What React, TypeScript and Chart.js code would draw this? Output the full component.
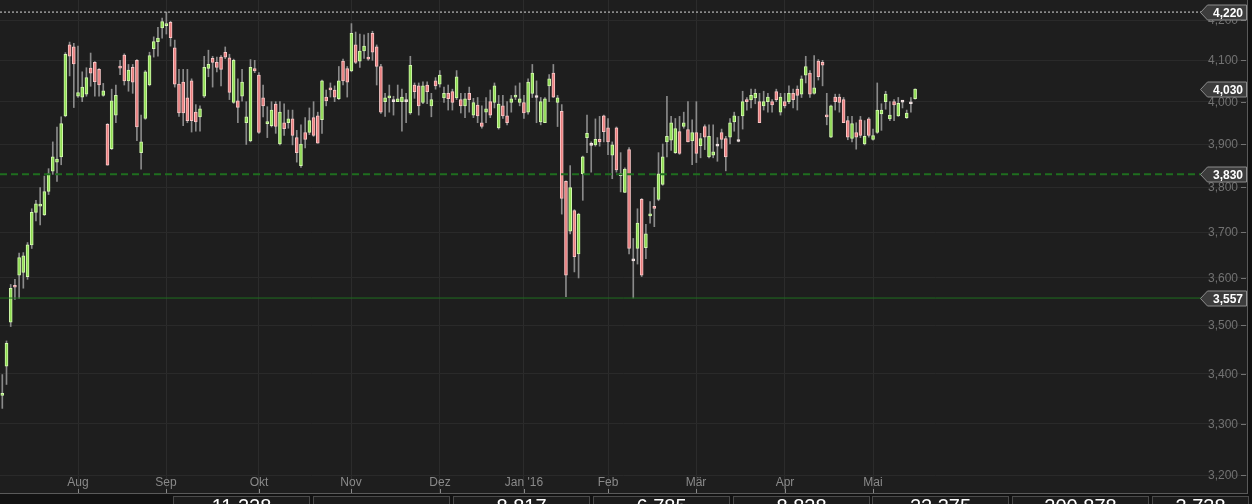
import React, { useEffect, useRef } from "react";
import { Chart, registerables } from "chart.js";

Chart.register(...registerables);

// ---- Data (daily candles, index 0 = first trading day shown) ----
const OPEN = [
  3356, 3415, 3506, 3584, 3606, 3612, 3603, 3672, 3744, 3758,
  3738, 3791, 3837, 3858, 3870, 3966, 4138, 4133, 4013, 4011,
  4018, 4081, 4095, 4078, 4015, 3946, 3889, 3968, 4085, 4113,
  4050, 4083, 4100, 3880, 3960, 4040, 4129, 4146, 4180, 4186,
  4194, 4131, 4042, 4047, 4009, 4050, 3975, 3964, 4013, 4080,
  4105, 4095, 4108, 4120, 4106, 3998, 4002, 4013, 3950, 3907,
  4080, 4064, 4009, 3948, 3943, 3994, 3900, 3950, 3950, 3959,
  3915, 3850, 3927, 3927, 3962, 3966, 3957, 4011, 4033, 4028,
  4007, 4098, 4080, 4074, 4138, 4098, 4123, 4107, 4167, 4133,
  4085, 4000, 4009, 4000, 4000, 4000, 4001, 3973, 4040, 4038,
  3998, 4040, 3990, 4050, 4042, 4009, 4020, 4024, 4009, 4005,
  3990, 4020, 3968, 3992, 3950, 3975, 4000, 3998, 3938, 3990,
  3966, 3998, 4011, 3998, 3998, 3975, 4020, 4012, 3952, 3950,
  4038, 4069, 3998, 3977, 3814, 3702, 3748, 3652, 3831, 3915,
  3899, 3898, 3911, 3966, 3938, 3874, 3938, 3829, 3789, 3887,
  3639, 3664, 3773, 3666, 3736, 3757, 3773, 3807, 3905, 3909,
  3880, 3929, 3941, 3934, 3907, 3927, 3896, 3941, 3870, 3874,
  3897, 3927, 3913, 3916, 3952, 3908, 3966, 4005, 4004, 4009,
  4000, 3990, 4000, 4000, 4024, 3975, 4000, 4000, 4020, 4030,
  4018, 4064, 4069, 4020, 4098, 4095, 3968, 3916, 4011, 4011,
  4005, 3955, 3913, 3927, 3957, 3900, 3959, 3911, 3927, 3971,
  4000, 3959, 4000, 3966, 4001, 3962, 3997, 4007,
];
const HIGH = [
  3398, 3467, 3586, 3597, 3654, 3655, 3677, 3752, 3771, 3800,
  3826, 3843, 3905, 3940, 3964, 4119, 4145, 4142, 4135, 4072,
  4082, 4118, 4097, 4080, 4044, 3948, 4030, 4040, 4100, 4116,
  4090, 4090, 4102, 3968, 4075, 4120, 4158, 4182, 4205, 4220,
  4197, 4150, 4078, 4078, 4078, 4055, 3993, 3990, 4110, 4125,
  4110, 4108, 4112, 4133, 4115, 4103, 4055, 4078, 4000, 4102,
  4100, 4070, 4040, 3988, 4000, 4000, 4000, 3995, 3980, 3980,
  3932, 3945, 3962, 3985, 4000, 3975, 4052, 4028, 4045, 4038,
  4085, 4103, 4085, 4191, 4170, 4165, 4163, 4167, 4172, 4138,
  4090, 4020, 4040, 4013, 4040, 4030, 4020, 4110, 4045, 4045,
  4048, 4048, 4020, 4058, 4075, 4035, 4040, 4030, 4075, 4020,
  4020, 4035, 4008, 4010, 3990, 4010, 4028, 4045, 4015, 4015,
  4000, 4015, 4038, 4045, 4015, 4055, 4090, 4050, 4010, 4010,
  4065, 4090, 4015, 3993, 3815, 3850, 3750, 3742, 3872, 3968,
  3905, 3959, 3965, 3968, 3960, 3905, 3940, 3880, 3845, 3892,
  3686, 3752, 3775, 3717, 3768, 3800, 3880, 3900, 4013, 3965,
  3960, 3965, 3975, 4000, 3957, 4000, 3925, 3945, 3945, 3945,
  3915, 3935, 3918, 3960, 3975, 3965, 4025, 4010, 4030, 4030,
  4020, 4025, 4020, 4005, 4030, 4020, 4020, 4038, 4030, 4038,
  4062, 4110, 4075, 4112, 4102, 4100, 4020, 3992, 4018, 4018,
  4010, 3965, 3965, 3950, 3965, 3955, 3962, 3935, 4045, 3995,
  4025, 4000, 4005, 4010, 4003, 3980, 4010, 4031,
];
const LOW = [
  3330, 3378, 3497, 3554, 3556, 3578, 3597, 3664, 3725, 3716,
  3737, 3784, 3830, 3814, 3852, 3964, 4062, 3986, 4010, 4000,
  4013, 4037, 4013, 4013, 4013, 3851, 3887, 3950, 4065, 4040,
  4025, 4020, 3908, 3842, 3958, 4038, 4108, 4110, 4155, 4165,
  4135, 4035, 3965, 3943, 3950, 3928, 3930, 3930, 4010, 4060,
  4035, 4072, 4038, 4104, 4005, 3996, 3950, 4001, 3899, 3905,
  4070, 3925, 3964, 3915, 3940, 3925, 3898, 3920, 3937, 3898,
  3858, 3846, 3891, 3922, 3918, 3902, 3925, 3990, 4011, 4000,
  4005, 4040, 4011, 4072, 4092, 4083, 4105, 4100, 4100, 4040,
  3972, 3965, 3975, 3968, 4000, 3930, 3950, 3970, 4008, 3968,
  3995, 3995, 3964, 4030, 4035, 3998, 3980, 3980, 4005, 3973,
  3962, 3975, 3962, 3950, 3937, 3950, 3962, 3985, 3935, 3960,
  3945, 3975, 4005, 3990, 3960, 3970, 4010, 3950, 3945, 3950,
  4000, 4010, 3941, 3740, 3560, 3696, 3613, 3600, 3771, 3880,
  3835, 3895, 3895, 3905, 3875, 3820, 3835, 3790, 3788, 3652,
  3557, 3630, 3603, 3642, 3720, 3712, 3770, 3805, 3870, 3885,
  3878, 3876, 3937, 3905, 3852, 3857, 3868, 3887, 3868, 3868,
  3860, 3890, 3838, 3900, 3930, 3905, 3935, 3980, 3985, 3995,
  3950, 3980, 3975, 3975, 4000, 3968, 3985, 3995, 3985, 3980,
  4010, 4045, 4010, 4018, 4052, 4038, 3945, 3915, 3980, 3975,
  3950, 3910, 3905, 3888, 3915, 3898, 3916, 3909, 3925, 3932,
  3982, 3955, 3955, 3965, 3985, 3960, 3975, 4006,
];
const CLOSE = [
  3360, 3462, 3578, 3580, 3644, 3648, 3672, 3744, 3763, 3762,
  3791, 3831, 3870, 3865, 3948, 4115, 4110, 4091, 4022, 4035,
  4058, 4069, 4048, 4040, 4026, 3851, 4002, 4015, 4081, 4050,
  4076, 4047, 3940, 3905, 4072, 4112, 4146, 4155, 4196, 4190,
  4156, 4042, 3973, 3973, 3955, 3955, 3952, 3983, 4083, 4090,
  4095, 4083, 4078, 4108, 4022, 4100, 3986, 4047, 3964, 4083,
  4074, 3927, 3990, 3952, 3980, 3941, 3975, 3936, 3959, 3920,
  3880, 3900, 3911, 3955, 3920, 3902, 4050, 4002, 4028, 4011,
  4050, 4050, 4047, 4167, 4095, 4123, 4135, 4103, 4120, 4085,
  3975, 4009, 4013, 4002, 4007, 4011, 4000, 4088, 4024, 3990,
  4038, 4024, 4005, 4038, 4064, 4020, 4007, 3998, 4060, 3990,
  4007, 4005, 3998, 3966, 3941, 3983, 3968, 4038, 3994, 3966,
  3950, 4007, 4015, 4007, 3973, 4047, 4069, 4010, 4000, 4007,
  4055, 4011, 4009, 3775, 3606, 3800, 3646, 3740, 3870, 3925,
  3897, 3911, 3905, 3929, 3905, 3898, 3840, 3827, 3842, 3664,
  3637, 3720, 3606, 3696, 3740, 3753, 3831, 3870, 3918, 3950,
  3936, 3878, 3950, 3905, 3927, 3878, 3913, 3916, 3918, 3882,
  3895, 3911, 3870, 3950, 3966, 3906, 4000, 4000, 4015, 4020,
  3950, 4000, 4011, 3992, 4005, 4011, 3990, 4020, 4005, 4015,
  4055, 4085, 4018, 4033, 4060, 4088, 3964, 3990, 4000, 3998,
  3950, 3916, 3948, 3916, 3920, 3918, 3920, 3920, 3980, 3980,
  4018, 3968, 3992, 3996, 3999, 3973, 3995, 4030,
];

// month starts (candle index) and their labels
const MONTH_IDX = [18, 39, 61, 83, 104, 124, 144, 165, 186, 207];
const MONTH_LABELS = ["Aug", "Sep", "Okt", "Nov", "Dez", "Jan '16", "Feb", "Mär", "Apr", "Mai"];
const Y_TICKS = [3200, 3300, 3400, 3500, 3600, 3700, 3800, 3900, 4000, 4100, 4200];

// reference levels
const LEVEL_HIGH = 4220;
const LEVEL_LAST = 4030;
const LEVEL_DASH = 3830;
const LEVEL_LOW = 3557;
const BADGE_LEVELS = [LEVEL_HIGH, LEVEL_LAST, LEVEL_DASH, LEVEL_LOW];

// bottom strip (cut-off panel values)
const STRIP_TEXT = ["11,228", "", "8.817", "6.785", "8.828", "22.375", "200.878", "3.738"];

const X_MIN = -0.547;
const X_MAX = 295.9;
const Y_MIN = 3165.8;
const Y_MAX = 4250.6;

const BG = "#1e1e1e";

const fmt = (v: number) => String(v).replace(/\B(?=(\d{3})+(?!\d))/g, ",");

const overlay = {
  id: "overlay",
  beforeDraw(chart: any) {
    const { ctx, width, height } = chart;
    ctx.save();
    ctx.fillStyle = BG;
    ctx.fillRect(0, 0, width, height);
    ctx.restore();
  },
  afterDraw(chart: any) {
    const ctx = chart.ctx as CanvasRenderingContext2D;
    const ys = chart.scales.y;
    const xs = chart.scales.x;
    const ca = chart.chartArea;
    ctx.save();

    // y labels
    ctx.font = "12px Arial";
    ctx.textAlign = "right";
    ctx.textBaseline = "middle";
    for (const v of Y_TICKS) {
      const y = Math.round(ys.getPixelForValue(v));
      ctx.fillStyle = "#727272";
      ctx.fillText(fmt(v), 1238, y + 1);
      ctx.fillRect(1241, y, 5, 1);
    }

    // x labels
    ctx.textAlign = "center";
    ctx.font = "12px Arial";
    MONTH_IDX.forEach((m, k) => {
      const x = Math.round(xs.getPixelForValue(m));
      ctx.fillStyle = "#8a8a8a";
      ctx.fillText(MONTH_LABELS[k], x, 483);
      ctx.fillRect(x, 489, 1, 4);
    });

    // badges
    for (const v of BADGE_LEVELS) {
      const y = Math.round(ys.getPixelForValue(v)) + 0.5;
      ctx.beginPath();
      ctx.moveTo(1200.5, y);
      ctx.lineTo(1207.5, y - 7.5);
      ctx.lineTo(1246.5, y - 7.5);
      ctx.lineTo(1246.5, y + 7.5);
      ctx.lineTo(1207.5, y + 7.5);
      ctx.closePath();
      ctx.fillStyle = "#3c3c3c";
      ctx.fill();
      ctx.strokeStyle = "#8c8c8c";
      ctx.lineWidth = 1;
      ctx.stroke();
      ctx.fillStyle = "#ffffff";
      ctx.font = "bold 12px Arial";
      ctx.textAlign = "right";
      ctx.textBaseline = "middle";
      ctx.fillText(fmt(v), 1243, y + 1);
    }

    // right border
    ctx.fillStyle = "#5a5a5a";
    ctx.fillRect(1247, 0, 1, ca.bottom);
    ctx.fillStyle = "#111111";
    ctx.fillRect(1248, 0, 4, 504);

    // bottom strip
    ctx.fillStyle = "#121212";
    ctx.fillRect(0, ca.bottom, 1252, 504 - ca.bottom);
    ctx.fillStyle = "#5a5a5a";
    ctx.fillRect(0, ca.bottom, 1248, 1);
    const boxX = [173, 313, 453, 593, 733, 872, 1012, 1152];
    boxX.forEach((bx, k) => {
      const w = k === boxX.length - 1 ? 97 : 137;
      ctx.fillStyle = "#1c1c1c";
      ctx.fillRect(bx, ca.bottom + 3, w, 20);
      ctx.strokeStyle = "#4a4a4a";
      ctx.strokeRect(bx + 0.5, ca.bottom + 3.5, w - 1, 20);
      if (STRIP_TEXT[k]) {
        ctx.fillStyle = "#ffffff";
        ctx.font = "20px Arial";
        ctx.textAlign = "center";
        ctx.textBaseline = "alphabetic";
        ctx.fillText(STRIP_TEXT[k], bx + w / 2, 513);
      }
    });

    ctx.restore();
  },
};

export default function App() {
  const ref = useRef<HTMLCanvasElement | null>(null);

  useEffect(() => {
    if (!ref.current) return;
    const idx = OPEN.map((_, i) => i);
    const isDoji = (i: number) => Math.abs(CLOSE[i] - OPEN[i]) <= 3;
    const fill = idx.map((i) => (isDoji(i) ? "#e6cfcf" : CLOSE[i] > OPEN[i] ? "#8fdc52" : "#ea7f7f"));
    const edge = idx.map((i) => (isDoji(i) ? "#f4e6e6" : CLOSE[i] > OPEN[i] ? "#d2f8ae" : "#f8c6c6"));

    const hline = (v: number, color: string, width: number, dash: number[]) => ({
      type: "line" as const,
      data: [
        { x: X_MIN, y: v },
        { x: X_MAX, y: v },
      ],
      borderColor: color,
      borderWidth: width,
      borderDash: dash,
      pointRadius: 0,
      order: 0,
    });

    const chart = new Chart(ref.current, {
      type: "bar",
      data: {
        datasets: [
          hline(LEVEL_HIGH, "#d8d8d8", 1, [2, 2]),
          hline(LEVEL_DASH, "#1f6e1f", 2, [7, 4]),
          hline(LEVEL_LOW, "#1f6e1f", 1, []),
          {
            type: "bar",
            data: idx.map((i) => ({ x: i, y: [OPEN[i], CLOSE[i]] })),
            backgroundColor: fill,
            borderColor: edge,
            borderWidth: 1,
            borderSkipped: false,
            barThickness: 3,
            grouped: false,
            minBarLength: 2,
            order: 1,
          } as any,
          {
            type: "bar",
            data: idx.map((i) => ({ x: i, y: [LOW[i], HIGH[i]] })),
            backgroundColor: "#8a8a8a",
            borderWidth: 0,
            barThickness: 1,
            grouped: false,
            order: 2,
          } as any,
        ],
      },
      options: {
        responsive: false,
        animation: false,
        events: [],
        layout: { padding: { left: 0, top: 0, right: 5, bottom: 11 } },
        plugins: { legend: { display: false }, tooltip: { enabled: false } },
        scales: {
          x: {
            type: "linear",
            min: X_MIN,
            max: X_MAX,
            offset: false,
            ticks: { display: false },
            grid: { color: "#2c2c2c", drawTicks: false, offset: false },
            border: { display: false },
            afterBuildTicks: (s: any) => {
              s.ticks = MONTH_IDX.map((v) => ({ value: v }));
            },
          },
          y: {
            type: "logarithmic",
            position: "right",
            min: Y_MIN,
            max: Y_MAX,
            ticks: { display: false },
            grid: { color: "#2a2a2a", drawTicks: false },
            border: { display: false },
            afterBuildTicks: (s: any) => {
              s.ticks = Y_TICKS.map((v) => ({ value: v }));
            },
          },
        },
      } as any,
      plugins: [overlay],
    });
    return () => chart.destroy();
  }, []);

  return (
    <div style={{ position: "absolute", left: 0, top: 0, width: 1252, height: 504, background: BG }}>
      <canvas ref={ref} width={1252} height={504} style={{ display: "block" }} />
    </div>
  );
}
